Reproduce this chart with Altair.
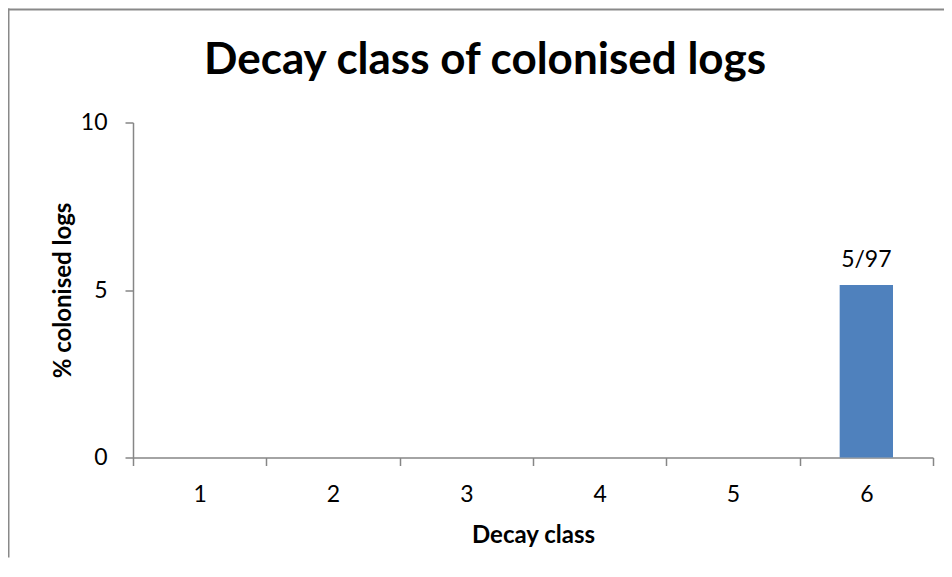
import altair as alt
import pandas as pd

# ---- data ----
TITLE = "Decay class of colonised logs"
X_TITLE = "Decay class"
Y_TITLE = "% colonised logs"
decay_class = [1, 2, 3, 4, 5, 6]
pct_colonised = [0, 0, 0, 0, 0, 5.15]
bar_labels = ["", "", "", "", "", "5/97"]
x_tick_values = [0.5, 1.5, 2.5, 3.5, 4.5, 5.5, 6.5]
y_tick_values = [0, 5, 10]

df = pd.DataFrame({"cls": decay_class, "pct": pct_colonised, "label": bar_labels})

FONT = "Lato"
GRAY = "#898989"
BAR = "#4f81bd"

x_scale = alt.Scale(domain=[0.5, 6.5], nice=False, zero=False)
y_scale = alt.Scale(domain=[0, 10], nice=False, zero=True)

x_axis = alt.Axis(
    values=x_tick_values,
    labelExpr="datum.value < 6 ? format(datum.value + 0.5, 'd') : ''",
    labelOffset=66.67,
    labelFlush=False,
    labelOverlap=False,
    tickSize=8,
    labelPadding=36,
    labelBaseline="alphabetic",
    grid=False,
    title=X_TITLE,
    titleX=400,
    titleY=84.5,
    titleBaseline="alphabetic",
    titleAlign="center",
)
y_axis = alt.Axis(
    values=y_tick_values,
    tickSize=8,
    labelPadding=18,
    labelBaseline="middle",
    grid=False,
    title=Y_TITLE,
    titleAngle=270,
    titleX=-70,
    titleY=167.5,
    titleBaseline="middle",
    titleAlign="center",
)

bars = (
    alt.Chart(df)
    .transform_filter("datum.pct > 0")
    .transform_calculate(x0="datum.cls - 0.2", x1="datum.cls + 0.2")
    .mark_bar(color=BAR)
    .encode(
        x=alt.X("x0:Q", scale=x_scale, axis=x_axis),
        x2="x1:Q",
        y=alt.Y("pct:Q", scale=y_scale, axis=y_axis),
        y2=alt.datum(0),
    )
)

labels = (
    alt.Chart(df)
    .mark_text(font=FONT, fontSize=23, color="black", baseline="alphabetic", align="center", dy=-18)
    .encode(
        x=alt.X("cls:Q", scale=x_scale, axis=x_axis),
        y=alt.Y("pct:Q", scale=y_scale, axis=y_axis),
        text="label:N",
    )
)

one = alt.Data(values=[{"k": 1}])

title_mark = (
    alt.Chart(one)
    .mark_text(text=TITLE, font=FONT, fontSize=44, fontWeight="bold", color="black",
               align="center", baseline="alphabetic")
    .encode(x=alt.value(352), y=alt.value(-48.5))
)

# chart frame (kept inside the SVG so the page does not overflow)
border_top = (
    alt.Chart(one)
    .mark_rect(color=GRAY)
    .encode(x=alt.value(-125), x2=alt.value(811), y=alt.value(-114), y2=alt.value(-112))
)
border_left = (
    alt.Chart(one)
    .mark_rect(color=GRAY)
    .encode(x=alt.value(-125), x2=alt.value(-123.5), y=alt.value(-114), y2=alt.value(435))
)

chart = (
    alt.layer(border_top, border_left, title_mark, bars, labels)
    .properties(
        width=800,
        height=335,
        autosize=alt.AutoSizeParams(type="none"),
        padding={"left": 125, "top": 114.5, "right": 11, "bottom": 100},
    )
    .configure_view(stroke=None)
    .configure_axis(
        labelFont=FONT,
        labelFontSize=23,
        labelColor="black",
        titleFont=FONT,
        titleFontSize=24,
        titleFontWeight="bold",
        titleColor="black",
        domainColor="#868686",
        tickColor="#868686",
        domainWidth=1.5,
        tickWidth=1.5,
    )
)

chart.save("out.html", embed_options={"renderer": "svg", "actions": False})
